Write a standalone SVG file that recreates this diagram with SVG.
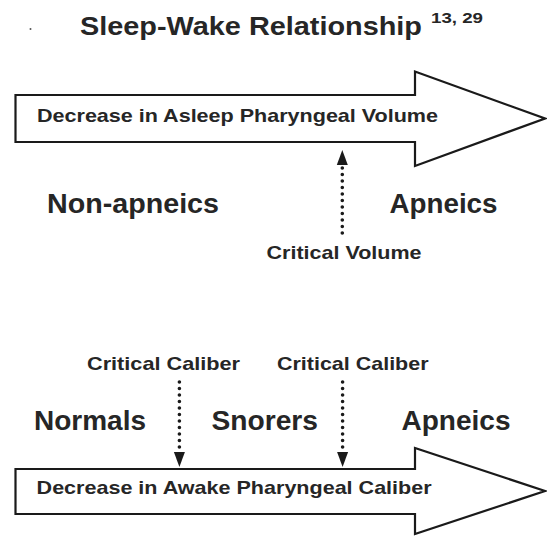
<svg xmlns="http://www.w3.org/2000/svg" width="547" height="541" viewBox="0 0 547 541">
<style>
  text { font-family: "Liberation Sans", Arial, sans-serif; fill: #262626; font-weight: bold; }
  .big { font-size: 27px; }
  .lbl { font-size: 18.5px; }
  .bar { fill: #ffffff; stroke: #1a1a1a; stroke-width: 2.2; stroke-linejoin: miter; }
  .dots { fill: none; stroke: #1a1a1a; stroke-width: 3.6; stroke-linecap: round; stroke-dasharray: 0 6.5; }
</style>
<defs>
  <marker id="head" markerUnits="userSpaceOnUse" markerWidth="20" markerHeight="14" refX="0" refY="7" orient="auto" overflow="visible">
    <path d="M0,1.5 L15,7 L0,12.5 Z" fill="#1a1a1a"/>
  </marker>
</defs>
<rect width="547" height="541" fill="#ffffff"/>

<g id="title">
  <circle cx="30.5" cy="29" r="1" fill="#555"/>
  <text x="80" y="35" font-size="25" textLength="342" lengthAdjust="spacingAndGlyphs">Sleep-Wake Relationship</text>
  <text x="431" y="23" font-size="15" font-weight="normal" textLength="52" lengthAdjust="spacingAndGlyphs">13, 29</text>
</g>

<g id="arrow-asleep">
  <path class="bar" d="M15.5,95 H415 V71.5 L545,118.5 L415,166 V142 H15.5 Z"/>
  <text x="37" y="121.5" font-size="19" textLength="401" lengthAdjust="spacingAndGlyphs">Decrease in Asleep Pharyngeal Volume</text>
</g>

<g id="label-nonapneics"><text class="big" x="47" y="212.5" textLength="172" lengthAdjust="spacingAndGlyphs">Non-apneics</text></g>
<g id="label-apneics-top"><text class="big" x="389.5" y="212.5" textLength="108" lengthAdjust="spacingAndGlyphs">Apneics</text></g>
<g id="label-critical-volume"><text class="lbl" x="266.5" y="259" textLength="155" lengthAdjust="spacingAndGlyphs">Critical Volume</text></g>

<g id="label-critical-caliber-1"><text class="lbl" x="87" y="369.5" textLength="153" lengthAdjust="spacingAndGlyphs">Critical Caliber</text></g>
<g id="label-critical-caliber-2"><text class="lbl" x="277" y="369.5" textLength="151.5" lengthAdjust="spacingAndGlyphs">Critical Caliber</text></g>
<g id="label-normals"><text class="big" x="34" y="430" textLength="112" lengthAdjust="spacingAndGlyphs">Normals</text></g>
<g id="label-snorers"><text class="big" x="211.5" y="430" textLength="106.5" lengthAdjust="spacingAndGlyphs">Snorers</text></g>
<g id="label-apneics-bottom"><text class="big" x="401.5" y="430" textLength="109" lengthAdjust="spacingAndGlyphs">Apneics</text></g>

<g id="arrow-awake">
  <path class="bar" d="M15.5,469 H415 V448 L545,491 L415,534 V514 H15.5 Z"/>
  <text x="36.6" y="494" font-size="19" textLength="395" lengthAdjust="spacingAndGlyphs">Decrease in Awake Pharyngeal Caliber</text>
</g>

<g id="connectors">
  <path class="dots" d="M342.3,233 V165" marker-end="url(#head)"/>
  <path class="dots" d="M179.4,382 V452" marker-end="url(#head)"/>
  <path class="dots" d="M342.6,382 V452" marker-end="url(#head)"/>
</g>
</svg>
